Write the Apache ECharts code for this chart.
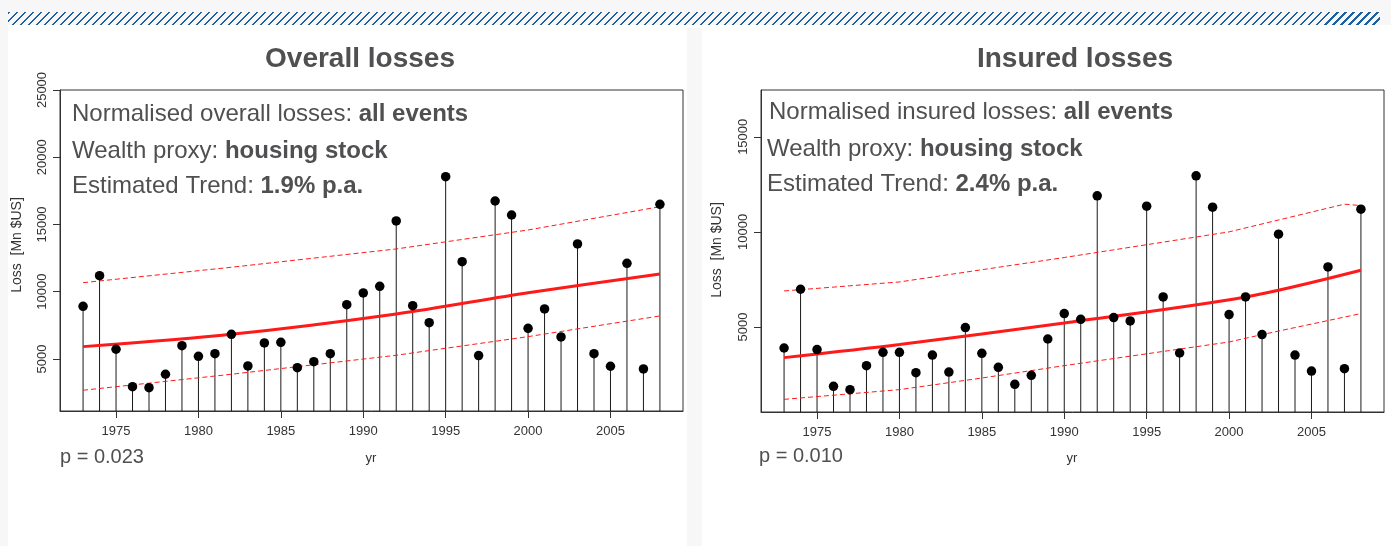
<!DOCTYPE html>
<html>
<head>
<meta charset="utf-8">
<script src="https://cdn.jsdelivr.net/npm/echarts@6/dist/echarts.min.js"></script>
<style>
  html, body { margin: 0; padding: 0; background: #f7f7f7; }
  #chart { width: 1391px; height: 546px; position: relative; }
  #stripe { position: absolute; left: 8px; top: 12px; width: 1372px; height: 13px;
    background: repeating-linear-gradient(135deg, #1d5f9f 0px, #1d5f9f 1.6px, rgba(255,255,255,0) 1.6px, rgba(255,255,255,0) 5.66px);
    z-index: 10; }
</style>
</head>
<body>
<div id="chart"></div>
<div id="stripe"></div>
<script>
// ---------------- data ----------------
const years = [1973,1974,1975,1976,1977,1978,1979,1980,1981,1982,1983,1984,1985,1986,1987,1988,1989,1990,
               1991,1992,1993,1994,1995,1996,1997,1998,1999,2000,2001,2002,2003,2004,2005,2006,2007,2008];

const overallLoss = [8918,11193,5721,2941,2866,3862,5991,5198,5396,6834,4480,6190,6240,4355,4800,5396,9037,9907,
                     10405,15260,8965,7700,18556,12234,5248,16747,15706,7282,8718,6636,13550,5396,4457,12115,4256,16502];

const insuredLoss = [3895,6984,3810,1879,1705,2968,3668,3668,2600,3526,2632,4968,3616,2879,1984,2458,4368,5705,
                     5405,11895,5495,5316,11352,6579,3632,12947,11300,5653,6579,4600,9879,3526,2684,8158,2810,11195];

// trend lines (values read at several years)
const overallTrendYears = [1973, 1982, 1992, 2000, 2008];
const overallTrend      = [5917, 6834, 8346, 9930, 11320];
const overallBandYears  = [1973, 1982, 1992, 2000, 2008];
const overallUpper      = [10673, 11818, 13180, 14590, 16323];
const overallLower      = [2673, 3862, 5275, 6660, 8197];

const insuredTrendYears = [1973, 1980, 1990, 2001, 2008];
const insuredTrend      = [3389, 4074, 5211, 6579, 7984];
const insuredUpperYears = [1973, 1980, 1990, 2000, 2007, 2008];
const insuredUpper      = [6895, 7368, 8652, 10000, 11458, 11380];
const insuredLowerYears = [1973, 1980, 1985, 1990, 2000, 2002, 2008];
const insuredLower      = [1195, 1705, 2316, 2968, 4211, 4600, 5705];

// tick labels
const xTicks = [1975, 1980, 1985, 1990, 1995, 2000, 2005];
const yTicksOverall = [5000, 10000, 15000, 20000, 25000];
const yTicksInsured = [5000, 10000, 15000];

// texts
const titles = ['Overall losses', 'Insured losses'];
const pValues = ['p = 0.023', 'p = 0.010'];
// ------------------------------------------------------------------------

const zip = (xs, ys) => xs.map((x, i) => [x, ys[i]]);
const FONT = '"Liberation Sans", Arial, sans-serif';
const TXT = '#505052';

function xAxis(gi) {
  return {
    type: 'value', gridIndex: gi, min: 1971.6, max: 2009.4,
    axisLine: { show: true, lineStyle: { color: '#333', width: 1 } },
    axisTick: { show: true, customValues: xTicks, length: 7, inside: false, lineStyle: { color: '#333' } },
    axisLabel: { customValues: xTicks, margin: 14, fontSize: 13, color: '#333', fontFamily: FONT, formatter: v => String(v) },
    splitLine: { show: false }
  };
}
function yAxis(gi, min, max, ticks) {
  return {
    type: 'value', gridIndex: gi, min: min, max: max,
    axisLine: { show: true, lineStyle: { color: '#333', width: 1 } },
    axisTick: { show: true, customValues: ticks, length: 7, lineStyle: { color: '#333' } },
    axisLabel: { customValues: ticks, rotate: 90, margin: 11, fontSize: 13, color: '#333', fontFamily: FONT, formatter: v => String(v) },
    splitLine: { show: false }
  };
}
function stems(gi, vals) {
  return {
    type: 'custom', xAxisIndex: gi, yAxisIndex: gi, z: 2, silent: true,
    data: zip(years, vals),
    renderItem: function (params, api) {
      const p = api.coord([api.value(0), api.value(1)]);
      const bottom = params.coordSys.y + params.coordSys.height;
      return { type: 'line', shape: { x1: p[0], y1: bottom, x2: p[0], y2: p[1] },
               style: { stroke: '#1a1a1a', lineWidth: 1 } };
    }
  };
}
function points(gi, vals) {
  return { type: 'scatter', xAxisIndex: gi, yAxisIndex: gi, z: 5, symbolSize: 9.5,
           itemStyle: { color: '#000', opacity: 1 }, data: zip(years, vals), silent: true };
}
function line(gi, xs, ys, width, dashed) {
  return { type: 'line', xAxisIndex: gi, yAxisIndex: gi, z: 4, showSymbol: false, silent: true,
           smooth: dashed ? false : 0.3,
           lineStyle: { color: '#ff1a1a', width: width, type: dashed ? [5, 3] : 'solid' },
           data: zip(xs, ys) };
}
function annot(x, y, pre, bold) {
  return { type: 'text', x: x, y: y, z: 20,
    style: { text: '{n|' + pre + '}{b|' + bold + '}', verticalAlign: 'middle', align: 'left', rich: {
      n: { fontSize: 24, fontFamily: FONT, fill: TXT, color: TXT },
      b: { fontSize: 24, fontFamily: FONT, fontWeight: 'bold', fill: TXT, color: TXT } } } };
}

const chart = echarts.init(document.getElementById('chart'), null, { renderer: 'canvas' });
chart.setOption({
  backgroundColor: '#f7f7f7',
  animation: false,
  grid: [
    { left: 60, top: 90, width: 623, height: 321, show: true, borderColor: '#333', borderWidth: 1, backgroundColor: '#fff' },
    { left: 761, top: 90, width: 623, height: 322, show: true, borderColor: '#333', borderWidth: 1, backgroundColor: '#fff' }
  ],
  xAxis: [xAxis(0), xAxis(1)],
  yAxis: [yAxis(0, 1130, 25000, yTicksOverall), yAxis(1, 530, 17460, yTicksInsured)],
  graphic: [
    { type: 'rect', shape: { x: 8, y: 25, width: 1383, height: 3 }, style: { fill: '#fff' }, z: -10 },
    { type: 'rect', shape: { x: 8, y: 28, width: 679, height: 518 }, style: { fill: '#fff' }, z: -10 },
    { type: 'rect', shape: { x: 702, y: 28, width: 689, height: 518 }, style: { fill: '#fff' }, z: -10 },
    { type: 'text', x: 360, y: 59, z: 20, style: { text: titles[0], fontSize: 28, fontWeight: 'bold', fontFamily: FONT, fill: TXT, align: 'center', verticalAlign: 'middle' } },
    { type: 'text', x: 1075, y: 59, z: 20, style: { text: titles[1], fontSize: 28, fontWeight: 'bold', fontFamily: FONT, fill: TXT, align: 'center', verticalAlign: 'middle' } },
    annot(72, 114, 'Normalised overall losses: ', 'all events'),
    annot(72, 151, 'Wealth proxy: ', 'housing stock'),
    annot(72, 186, 'Estimated Trend: ', '1.9% p.a.'),
    annot(769, 112, 'Normalised insured losses: ', 'all events'),
    annot(767, 149, 'Wealth proxy: ', 'housing stock'),
    annot(767, 184, 'Estimated Trend: ', '2.4% p.a.'),
    { type: 'text', x: 60, y: 457, z: 20, style: { text: pValues[0], fontSize: 20, fontFamily: FONT, fill: TXT, align: 'left', verticalAlign: 'middle' } },
    { type: 'text', x: 759, y: 456, z: 20, style: { text: pValues[1], fontSize: 20, fontFamily: FONT, fill: TXT, align: 'left', verticalAlign: 'middle' } },
    { type: 'text', x: 371, y: 458, z: 20, style: { text: 'yr', fontSize: 13, fontFamily: FONT, fill: '#333', align: 'center', verticalAlign: 'middle' } },
    { type: 'text', x: 1072, y: 458, z: 20, style: { text: 'yr', fontSize: 13, fontFamily: FONT, fill: '#333', align: 'center', verticalAlign: 'middle' } },
    { type: 'text', x: 17, y: 245, rotation: Math.PI / 2, z: 20, style: { text: 'Loss  [Mn $US]', fontSize: 14, fontFamily: FONT, fill: '#333', align: 'center', verticalAlign: 'middle' } },
    { type: 'text', x: 717, y: 250, rotation: Math.PI / 2, z: 20, style: { text: 'Loss  [Mn $US]', fontSize: 14, fontFamily: FONT, fill: '#333', align: 'center', verticalAlign: 'middle' } }
  ],
  series: [
    stems(0, overallLoss), points(0, overallLoss),
    line(0, overallTrendYears, overallTrend, 3, false),
    line(0, overallBandYears, overallUpper, 1, true),
    line(0, overallBandYears, overallLower, 1, true),
    stems(1, insuredLoss), points(1, insuredLoss),
    line(1, insuredTrendYears, insuredTrend, 3, false),
    line(1, insuredUpperYears, insuredUpper, 1, true),
    line(1, insuredLowerYears, insuredLower, 1, true)
  ]
});
</script>
</body>
</html>
